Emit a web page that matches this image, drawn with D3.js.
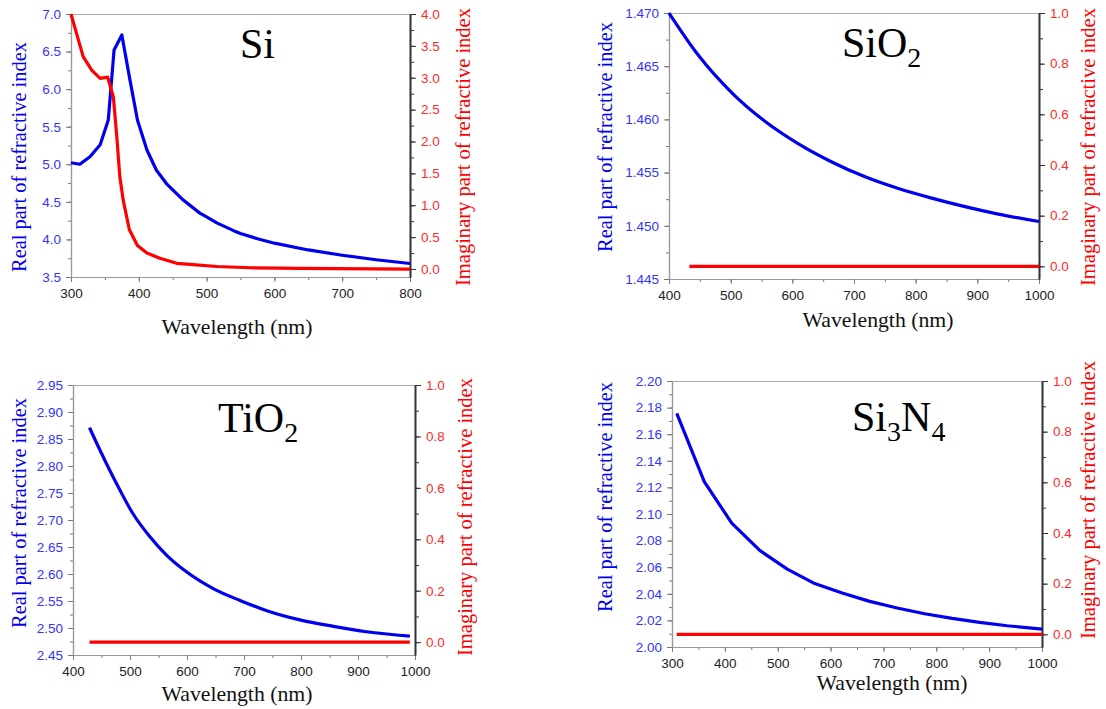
<!DOCTYPE html>
<html lang="en">
<head>
<meta charset="UTF-8">
<title>Refractive index of Si, SiO2, TiO2, Si3N4</title>
<script src="https://d3js.org/d3.v7.min.js"></script>
<style>
  body { margin: 0; background: #fff; }
  .tick text { font-family: Arial, "Liberation Sans", sans-serif; font-size: 13.5px; }
</style>
</head>
<body>
<svg width="1106" height="709"></svg>
<script>
// Si
const siWl = [300, 313, 328, 343, 355, 363.5, 375, 387, 398, 412, 426, 441, 466, 490, 500, 515, 539, 550, 575, 600, 650, 700, 750, 800];
const siN  = [5.02, 5.00, 5.10, 5.26, 5.59, 6.52, 6.72, 6.12, 5.59, 5.19, 4.92, 4.74, 4.52, 4.35, 4.30, 4.22, 4.12, 4.08, 4.01, 3.95, 3.86, 3.79, 3.73, 3.68];
const siKWl = [300, 311, 318, 330.5, 343, 354, 362.5, 367.5, 372, 377, 386, 398, 412, 431, 456, 480, 515, 564, 638, 800];
const siK   = [4.0, 3.59, 3.33, 3.12, 2.99, 3.01, 2.70, 2.08, 1.45, 1.08, 0.62, 0.37, 0.25, 0.17, 0.09, 0.07, 0.04, 0.02, 0.01, 0.0];

// SiO2
const sio2Wl = [400, 448, 502, 556, 610, 664, 718, 772, 826, 880, 934, 1000];
const sio2N  = [1.4700, 1.4660, 1.4625, 1.4598, 1.4577, 1.4560, 1.4546, 1.4535, 1.4526, 1.4518, 1.4511, 1.4504];
const sio2KWl = [433, 1000];
const sio2K   = [0, 0];

// TiO2
const tio2Wl = [429, 447, 464, 482, 505, 535, 564, 599, 646, 693, 740, 798, 857, 915, 991];
const tio2N  = [2.871, 2.830, 2.793, 2.756, 2.712, 2.669, 2.635, 2.604, 2.573, 2.551, 2.532, 2.515, 2.503, 2.493, 2.485];
const tio2KWl = [429, 991];
const tio2K   = [0, 0];

// Si3N4
const sinWl = [309, 361, 413, 466, 518, 570, 622, 674, 726, 778, 830, 882, 934, 1000];
const sinN  = [2.1757, 2.1244, 2.0931, 2.0726, 2.0586, 2.0477, 2.0406, 2.0343, 2.0293, 2.0250, 2.0215, 2.0185, 2.0160, 2.0135];
const sinKWl = [309, 1000];
const sinK   = [0, 0];

const blue = "#0000ee", red = "#ff0000";
const blueTxt = "#3333ff", redTxt = "#ff2a2a";
const serif = "'Liberation Serif', 'Times New Roman', serif";

const panels = [
  {name: ["Si"], titleX: 240, titleY: 58, smooth: false,
   left: 71, right: 410, top: 14, bottom: 277,
   xDom: [300, 800], xStep: 100,
   nDom: [3.5, 7.0], nStep: 0.5, nFmt: ".1f",
   kDom: [-0.125, 4.0], kStep: 0.5, kTicks: [0, 0.5, 1, 1.5, 2, 2.5, 3, 3.5, 4],
   wl: siWl, n: siN, kwl: siKWl, k: siK,
   lX: 19, lY: 157, rX: 463, rY: 147, xlX: 237, xlY: 334},
  {name: ["SiO", "2"], titleX: 842, titleY: 57, smooth: true,
   left: 669, right: 1039, top: 13, bottom: 279,
   xDom: [400, 1000], xStep: 100,
   nDom: [1.445, 1.470], nStep: 0.005, nFmt: ".3f",
   kDom: [-0.05, 1.0], kStep: 0.2, kTicks: [0, 0.2, 0.4, 0.6, 0.8, 1.0],
   wl: sio2Wl, n: sio2N, kwl: sio2KWl, k: sio2K,
   lX: 605, lY: 137, rX: 1088, rY: 147, xlX: 878, xlY: 327},
  {name: ["TiO", "2"], titleX: 218, titleY: 432, smooth: true,
   left: 73, right: 415, top: 385, bottom: 655,
   xDom: [400, 1000], xStep: 100,
   nDom: [2.45, 2.95], nStep: 0.05, nFmt: ".2f",
   kDom: [-0.05, 1.0], kStep: 0.2, kTicks: [0, 0.2, 0.4, 0.6, 0.8, 1.0],
   wl: tio2Wl, n: tio2N, kwl: tio2KWl, k: tio2K,
   lX: 19, lY: 513, rX: 465, rY: 517, xlX: 237, xlY: 701},
  {name: ["Si", "3", "N", "4"], titleX: 852, titleY: 431, smooth: false,
   left: 672, right: 1042, top: 381, bottom: 647,
   xDom: [300, 1000], xStep: 100,
   nDom: [2.00, 2.20], nStep: 0.02, nFmt: ".2f",
   kDom: [-0.05, 1.0], kStep: 0.2, kTicks: [0, 0.2, 0.4, 0.6, 0.8, 1.0],
   wl: sinWl, n: sinN, kwl: sinKWl, k: sinK,
   lX: 605, lY: 497, rX: 1088, rY: 500, xlX: 892, xlY: 690}
];

const svg = d3.select("svg");

function range(a, b, step) {
  const out = [];
  const n = Math.round((b - a) / step);
  for (let i = 0; i <= n; i++) out.push(+(a + i * step).toFixed(6));
  return out;
}

// size a title so its length matches the one in the figure
function fitText(sel, target) {
  const fs = +sel.attr("font-size");
  const len = sel.node().getComputedTextLength();
  if (len > 0) sel.attr("font-size", (fs * target / len).toFixed(2));
}

panels.forEach(p => {
  const g = svg.append("g");
  const x = d3.scaleLinear().domain(p.xDom).range([p.left, p.right]);
  const yn = d3.scaleLinear().domain(p.nDom).range([p.bottom, p.top]);
  const yk = d3.scaleLinear().domain(p.kDom).range([p.bottom, p.top]);

  // top frame line
  g.append("line")
    .attr("x1", p.left).attr("x2", p.right)
    .attr("y1", p.top + 0.5).attr("y2", p.top + 0.5)
    .attr("stroke", "#aaa").attr("stroke-width", 1.2);

  // bottom axis: minor + major ticks
  const xAx = g.append("g").attr("transform", `translate(0,${p.bottom})`);
  xAx.call(d3.axisBottom(x).tickValues(range(p.xDom[0], p.xDom[1], p.xStep / 2)).tickSize(3).tickSizeOuter(0).tickFormat(""));
  xAx.append("g").call(d3.axisBottom(x).tickValues(range(p.xDom[0], p.xDom[1], p.xStep)).tickSize(5).tickSizeOuter(0).tickPadding(6).tickFormat(d3.format("d")));
  xAx.selectAll("path").attr("stroke", "#999").attr("stroke-width", 1.2);
  xAx.selectAll("line").attr("stroke", "#777");
  xAx.selectAll("text").attr("fill", "#222");

  // left axis (real part)
  const lAx = g.append("g").attr("transform", `translate(${p.left},0)`);
  lAx.call(d3.axisLeft(yn).tickValues(range(p.nDom[0], p.nDom[1], p.nStep / 2)).tickSize(3).tickSizeOuter(0).tickFormat(""));
  lAx.append("g").call(d3.axisLeft(yn).tickValues(range(p.nDom[0], p.nDom[1], p.nStep)).tickSize(5).tickSizeOuter(0).tickPadding(5).tickFormat(d3.format(p.nFmt)));
  lAx.selectAll("path").attr("stroke", "#999").attr("stroke-width", 1.2);
  lAx.selectAll("line").attr("stroke", "#777");
  lAx.selectAll("text").attr("fill", blueTxt);

  // right axis (imaginary part)
  const kMinor = [];
  p.kTicks.forEach((v, i) => { kMinor.push(v); if (i < p.kTicks.length - 1) kMinor.push(+(v + p.kStep / 2).toFixed(4)); });
  const rAx = g.append("g").attr("transform", `translate(${p.right},0)`);
  rAx.call(d3.axisRight(yk).tickValues(kMinor).tickSize(4).tickSizeOuter(0).tickFormat(""));
  rAx.append("g").call(d3.axisRight(yk).tickValues(p.kTicks).tickSize(6).tickSizeOuter(0).tickPadding(5).tickFormat(d3.format(".1f")));
  rAx.selectAll("path").attr("stroke", "#333").attr("stroke-width", 1.6);
  rAx.selectAll("line").attr("stroke", "#333");
  rAx.selectAll("text").attr("fill", redTxt);
  // inner axes keep only their ticks
  [xAx, lAx, rAx].forEach(a => a.select("g > g").select(".domain").remove());

  // lines
  const curve = p.smooth ? d3.curveMonotoneX : d3.curveLinear;
  const nPts = p.wl.map((w, i) => [w, p.n[i]]);
  const kPts = p.kwl.map((w, i) => [w, p.k[i]]);
  g.append("path").datum(nPts)
    .attr("fill", "none").attr("stroke", blue).attr("stroke-width", 3.2)
    .attr("stroke-linejoin", "round")
    .attr("d", d3.line().x(d => x(d[0])).y(d => yn(d[1])).curve(curve));
  g.append("path").datum(kPts)
    .attr("fill", "none").attr("stroke", red).attr("stroke-width", 3.2)
    .attr("stroke-linejoin", "round")
    .attr("d", d3.line().x(d => x(d[0])).y(d => yk(d[1])).curve(curve));

  // material title
  const t = g.append("text")
    .attr("x", p.titleX).attr("y", p.titleY)
    .attr("font-family", serif).attr("font-size", 42).attr("fill", "#000");
  p.name.forEach((s, i) => {
    const sub = i % 2 === 1;
    t.append("tspan").text(s)
      .attr("font-size", sub ? 28 : 42)
      .attr("dy", i === 0 ? 0 : (sub ? 10 : -10));
  });

  // axis titles
  const lt = g.append("text")
    .attr("transform", `translate(${p.lX},${p.lY}) rotate(-90)`)
    .attr("text-anchor", "middle").attr("dominant-baseline", "central")
    .attr("font-family", serif).attr("font-size", 20.5).attr("fill", blue)
    .text("Real part of refractive index");
  fitText(lt, 230);
  const rt = g.append("text")
    .attr("transform", `translate(${p.rX},${p.rY}) rotate(-90)`)
    .attr("text-anchor", "middle").attr("dominant-baseline", "central")
    .attr("font-family", serif).attr("font-size", 20.5).attr("fill", red)
    .text("Imaginary part of refractive index");
  fitText(rt, 278);
  const xt = g.append("text")
    .attr("x", p.xlX).attr("y", p.xlY)
    .attr("text-anchor", "middle")
    .attr("font-family", serif).attr("font-size", 21.5).attr("fill", "#111")
    .text("Wavelength (nm)");
  fitText(xt, 151);
});
</script>
</body>
</html>
